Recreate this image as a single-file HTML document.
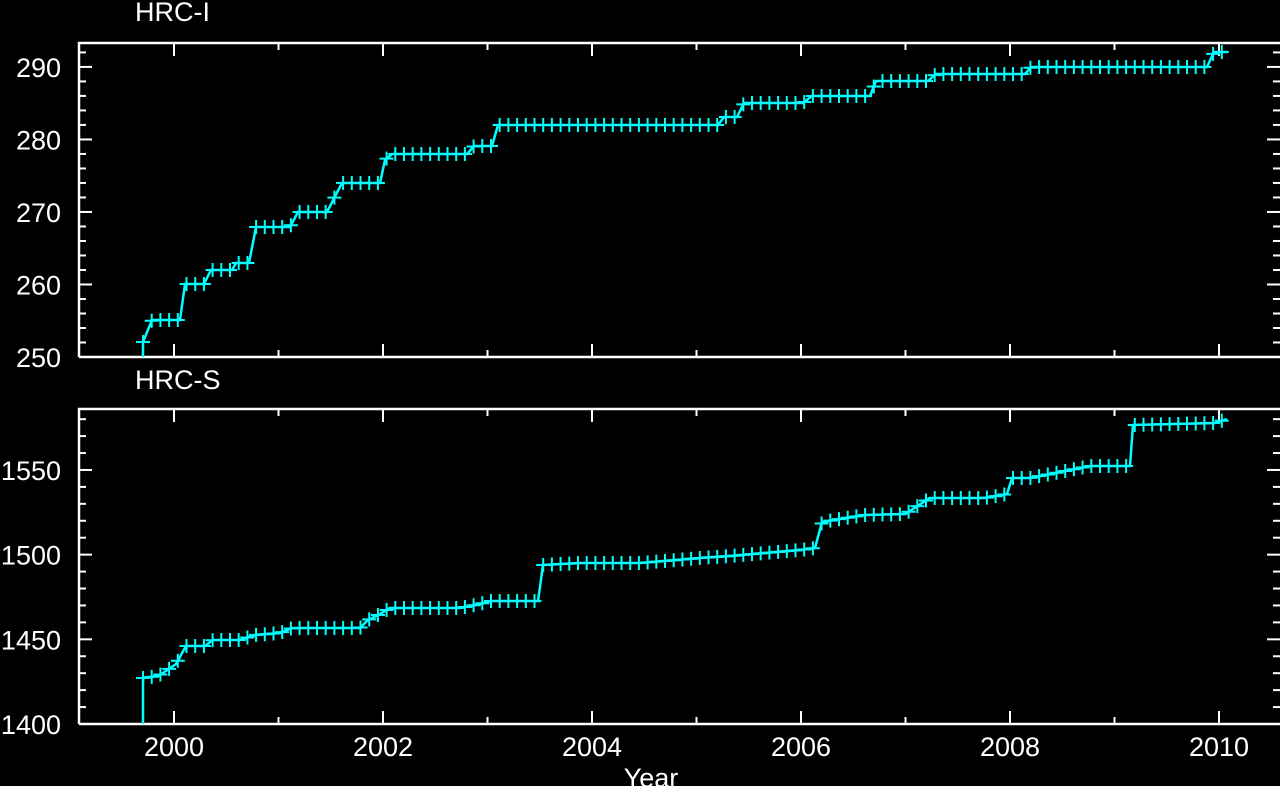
<!DOCTYPE html>
<html><head><meta charset="utf-8"><style>
html,body{margin:0;padding:0;background:#000;width:1280px;height:786px;overflow:hidden}
svg{display:block}
text{font-family:"Liberation Sans",sans-serif;fill:#fff;font-size:27px}
</style></head><body>
<svg id="s" width="1280" height="786" xmlns="http://www.w3.org/2000/svg">
<text x="135" y="21">HRC-I</text>
<text x="135" y="389">HRC-S</text>
<text x="651" y="787" text-anchor="middle">Year</text>
</svg>
<script>
const s=document.getElementById('s');const NS='http://www.w3.org/2000/svg';
function el(t,a,txt){const e=document.createElementNS(NS,t);for(const k in a)e.setAttribute(k,a[k]);if(txt!==undefined)e.textContent=txt;s.appendChild(e);return e;}
const X0=174,PX=104.5;
function panel(top,bot,ymin,ymax,major,minor,labels){
 el('path',{d:`M79,${bot} V${top} H1281`,stroke:'#fff','stroke-width':2.5,fill:'none'});
 el('line',{x1:79,y1:bot,x2:1281,y2:bot,stroke:'#fff','stroke-width':2.5});
 const sc=(bot-top)/(ymax-ymin);
 for(let v=ymin;v<=ymax+1e-9;v+=minor){const y=bot-(v-ymin)*sc;const isM=Math.abs(v/major-Math.round(v/major))<1e-6;const L=isM?13:7;
  el('line',{x1:79,y1:y,x2:79+L,y2:y,stroke:'#fff','stroke-width':2});
  el('line',{x1:1280,y1:y,x2:1280-L,y2:y,stroke:'#fff','stroke-width':2});
  if(isM&&labels)el('text',{x:61,y:y+10,'text-anchor':'end'},String(v));}
 for(let yr=2000;yr<=2010;yr++){const x=X0+(yr-2000)*PX;const L=yr%2==0?13:7;
  el('line',{x1:x,y1:bot,x2:x,y2:bot-L,stroke:'#fff','stroke-width':2});
  el('line',{x1:x,y1:top,x2:x,y2:top+L,stroke:'#fff','stroke-width':2});}
}
panel(43,357,250,293.3,10,2,true);
panel(409,724,1400,1586,50,10,true);
for(let yr=2000;yr<=2010;yr+=2)el('text',{x:X0+(yr-2000)*PX,y:756,'text-anchor':'middle'},String(yr));
function series(pts,pstart){
 el('polyline',{points:pts.map(p=>p.join(',')).join(' '),stroke:'#0ff','stroke-width':2.5,fill:'none'});
 function yAt(x){for(let i=1;i<pts.length;i++){if(x<=pts[i][0]&&pts[i][0]>pts[i-1][0]){const t=(x-pts[i-1][0])/(pts[i][0]-pts[i-1][0]);return pts[i-1][1]+t*(pts[i][1]-pts[i-1][1]);}}return pts[pts.length-1][1];}
 let d='';for(let x=pstart;x<=1222;x+=8.7){const y=yAt(x+0.01);d+=`M${x-7},${y}h14M${x},${y-7}v14`;}
 el('path',{d:d,stroke:'#0ff','stroke-width':2,fill:'none'});
}
series([[143,357],[143,342],[152,320],[180,320],[185,284],[204,284],[211,270],[232,270],[236,263],[249,263],[256,227],[290,227],[298,212],[327,212],[342,183],[380,183],[385,160],[392,154],[467,154],[474,146],[492,146],[498,125],[718,125],[724,117],[737,117],[744,103],[803,103],[812,96],[870,96],[876,81],[928,81],[936,74],[1025,74],[1031,67],[1207,67],[1214,52],[1227,52]],143);
series([[143,724],[143,678],[158,676],[166,671],[176,664],[186,646],[205,646],[213,640],[240,640],[255,635],[280,633],[292,628],[360,628],[368,620],[380,614],[390,608],[460,608],[480,604],[490,601],[538,601],[543,565],[580,563],[640,563],[700,558],[730,556],[800,550],[815,548],[822,522],[840,519],[865,515],[905,514],[930,498],[985,498],[1007,494],[1012,478],[1030,478],[1050,474],[1070,470],[1090,466],[1130,466],[1133,425],[1215,423],[1227,419]],143);
</script>
</body></html>
